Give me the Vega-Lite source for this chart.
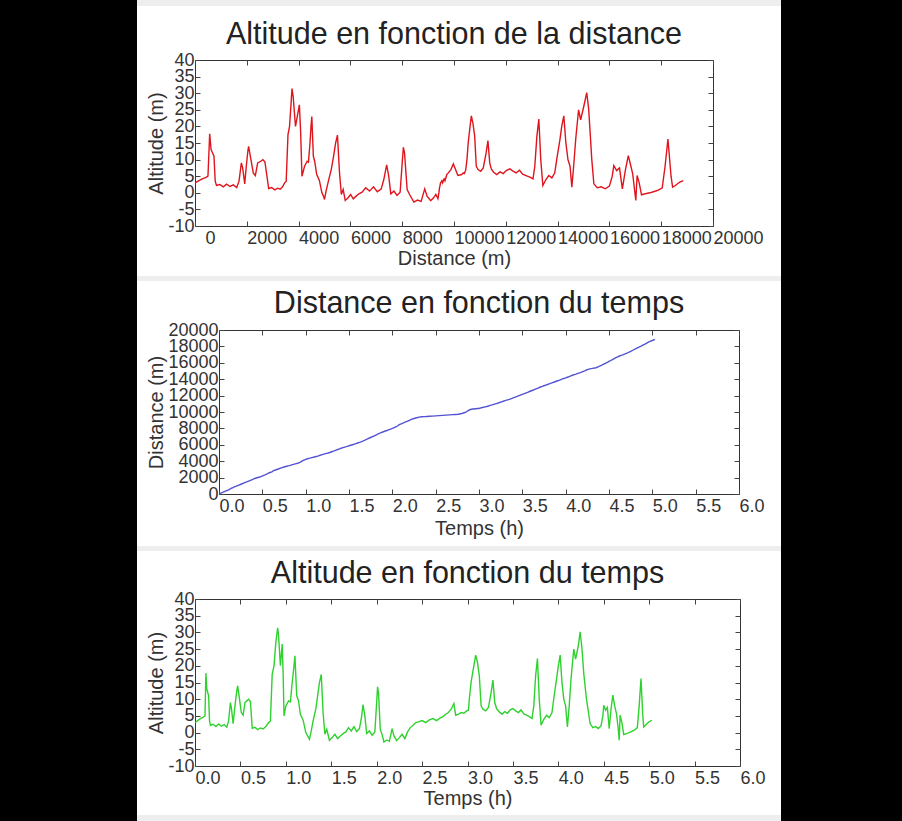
{
"$schema": "https://vega.github.io/schema/vega-lite/v6.json",
"background": "white",
"padding": 0,
"spacing": 0,
"config": {
  "font": "Liberation Sans",
  "view": {"stroke": "#333333", "strokeWidth": 1, "fill": "white"},
  "axis": {"grid": false, "domain": false, "labelFont": "Liberation Sans", "titleFont": "Liberation Sans"},
  "title": {"font": "Liberation Sans"}
},
"data": {"values": [
{"t":0.00,"d":0,"a":3.0},{"t":0.03,"d":140,"a":3.6},{"t":0.06,"d":280,"a":4.2},{"t":0.09,"d":410,"a":4.6},{"t":0.11,"d":500,"a":5.0},{"t":0.12,"d":567,"a":17.8},{"t":0.13,"d":620,"a":13},{"t":0.14,"d":680,"a":12},{"t":0.15,"d":733,"a":11},{"t":0.16,"d":780,"a":3.5},{"t":0.17,"d":830,"a":2.2},{"t":0.20,"d":960,"a":2.5},{"t":0.23,"d":1090,"a":1.8},{"t":0.26,"d":1220,"a":2.6},{"t":0.29,"d":1350,"a":1.9},{"t":0.32,"d":1480,"a":2.4},{"t":0.35,"d":1610,"a":1.6},{"t":0.37,"d":1700,"a":3.5},{"t":0.39,"d":1790,"a":9.0},{"t":0.40,"d":1840,"a":7.5},{"t":0.42,"d":1920,"a":2.7},{"t":0.44,"d":1980,"a":8},{"t":0.46,"d":2040,"a":12.5},{"t":0.47,"d":2070,"a":14},{"t":0.49,"d":2160,"a":10},{"t":0.51,"d":2250,"a":6},{"t":0.53,"d":2330,"a":5.2},{"t":0.55,"d":2420,"a":9},{"t":0.57,"d":2540,"a":9.5},{"t":0.59,"d":2620,"a":10},{"t":0.61,"d":2700,"a":9.3},{"t":0.63,"d":2845,"a":1.3},{"t":0.66,"d":2960,"a":1.6},{"t":0.69,"d":3080,"a":0.9},{"t":0.72,"d":3190,"a":1.4},{"t":0.75,"d":3290,"a":1.1},{"t":0.78,"d":3380,"a":1.8},{"t":0.81,"d":3460,"a":3.0},{"t":0.83,"d":3520,"a":3.4},{"t":0.85,"d":3590,"a":17.5},{"t":0.87,"d":3650,"a":20},{"t":0.89,"d":3710,"a":27},{"t":0.91,"d":3745,"a":31.4},{"t":0.92,"d":3790,"a":29},{"t":0.94,"d":3880,"a":20},{"t":0.96,"d":4030,"a":26.5},{"t":0.97,"d":4080,"a":18},{"t":0.98,"d":4130,"a":5},{"t":1.00,"d":4230,"a":8},{"t":1.03,"d":4330,"a":9.5},{"t":1.05,"d":4380,"a":9.2},{"t":1.07,"d":4440,"a":15},{"t":1.09,"d":4480,"a":20},{"t":1.10,"d":4510,"a":23},{"t":1.12,"d":4570,"a":11},{"t":1.14,"d":4620,"a":9.5},{"t":1.16,"d":4700,"a":5.5},{"t":1.19,"d":4800,"a":3.8},{"t":1.22,"d":4900,"a":0},{"t":1.24,"d":4960,"a":-1.0},{"t":1.26,"d":5000,"a":-2.0},{"t":1.28,"d":5060,"a":0.5},{"t":1.30,"d":5150,"a":3.5},{"t":1.33,"d":5260,"a":7},{"t":1.35,"d":5350,"a":11},{"t":1.37,"d":5430,"a":15},{"t":1.39,"d":5500,"a":17.4},{"t":1.41,"d":5580,"a":6},{"t":1.43,"d":5650,"a":-0.5},{"t":1.45,"d":5720,"a":1},{"t":1.48,"d":5800,"a":-2.3},{"t":1.51,"d":5910,"a":-1.5},{"t":1.54,"d":6010,"a":-0.5},{"t":1.57,"d":6110,"a":-1.8},{"t":1.60,"d":6220,"a":-1.0},{"t":1.63,"d":6330,"a":-0.3},{"t":1.66,"d":6450,"a":0.2},{"t":1.69,"d":6590,"a":1.5},{"t":1.72,"d":6740,"a":0.5},{"t":1.75,"d":6890,"a":1.8},{"t":1.78,"d":7040,"a":0.3},{"t":1.81,"d":7190,"a":1.2},{"t":1.83,"d":7290,"a":4},{"t":1.85,"d":7400,"a":8.4},{"t":1.87,"d":7480,"a":5},{"t":1.89,"d":7560,"a":-0.3},{"t":1.92,"d":7680,"a":0.5},{"t":1.95,"d":7800,"a":-0.8},{"t":1.98,"d":7920,"a":0.2},{"t":2.00,"d":8000,"a":9},{"t":2.01,"d":8045,"a":13.7},{"t":2.02,"d":8090,"a":12},{"t":2.04,"d":8190,"a":1},{"t":2.06,"d":8290,"a":-0.6},{"t":2.08,"d":8450,"a":-2.8},{"t":2.11,"d":8590,"a":-2.2},{"t":2.14,"d":8730,"a":-2.6},{"t":2.17,"d":8870,"a":1.2},{"t":2.19,"d":8960,"a":-1},{"t":2.22,"d":9100,"a":-2.4},{"t":2.25,"d":9210,"a":-1.5},{"t":2.28,"d":9300,"a":-0.5},{"t":2.31,"d":9380,"a":-1.8},{"t":2.34,"d":9420,"a":0.2},{"t":2.37,"d":9440,"a":1.5},{"t":2.40,"d":9460,"a":2.2},{"t":2.43,"d":9480,"a":3.0},{"t":2.46,"d":9500,"a":3.2},{"t":2.50,"d":9530,"a":3.6},{"t":2.54,"d":9560,"a":3.0},{"t":2.58,"d":9590,"a":3.8},{"t":2.62,"d":9620,"a":4.2},{"t":2.66,"d":9650,"a":3.6},{"t":2.70,"d":9680,"a":4.4},{"t":2.73,"d":9700,"a":4.8},{"t":2.76,"d":9720,"a":5.5},{"t":2.79,"d":9780,"a":6},{"t":2.82,"d":9880,"a":7},{"t":2.85,"d":9975,"a":8.7},{"t":2.87,"d":10150,"a":5.2},{"t":2.90,"d":10300,"a":5.5},{"t":2.93,"d":10360,"a":6},{"t":2.96,"d":10400,"a":5.8},{"t":2.99,"d":10430,"a":6.5},{"t":3.01,"d":10450,"a":6.7},{"t":3.02,"d":10500,"a":10},{"t":3.04,"d":10550,"a":15.2},{"t":3.07,"d":10620,"a":20},{"t":3.09,"d":10670,"a":23.2},{"t":3.11,"d":10730,"a":21},{"t":3.13,"d":10800,"a":17},{"t":3.15,"d":10860,"a":8},{"t":3.17,"d":10930,"a":7},{"t":3.20,"d":11030,"a":6.5},{"t":3.23,"d":11130,"a":7.5},{"t":3.26,"d":11240,"a":12},{"t":3.28,"d":11310,"a":15.7},{"t":3.30,"d":11380,"a":9},{"t":3.32,"d":11440,"a":7.2},{"t":3.35,"d":11530,"a":6.2},{"t":3.38,"d":11650,"a":5.5},{"t":3.41,"d":11780,"a":6.3},{"t":3.44,"d":11900,"a":5.8},{"t":3.47,"d":12030,"a":6.8},{"t":3.50,"d":12160,"a":7.2},{"t":3.53,"d":12280,"a":6.5},{"t":3.56,"d":12400,"a":6.0},{"t":3.59,"d":12530,"a":6.8},{"t":3.62,"d":12650,"a":5.6},{"t":3.65,"d":12780,"a":5.2},{"t":3.68,"d":12910,"a":4.8},{"t":3.71,"d":13050,"a":4.2},{"t":3.73,"d":13120,"a":8},{"t":3.75,"d":13200,"a":17},{"t":3.77,"d":13275,"a":22.2},{"t":3.79,"d":13350,"a":10},{"t":3.81,"d":13430,"a":2.2},{"t":3.84,"d":13550,"a":4},{"t":3.87,"d":13660,"a":5.2},{"t":3.90,"d":13780,"a":4.5},{"t":3.93,"d":13890,"a":6},{"t":3.95,"d":13970,"a":10.2},{"t":3.98,"d":14090,"a":16},{"t":4.00,"d":14160,"a":20},{"t":4.02,"d":14240,"a":23.2},{"t":4.04,"d":14320,"a":15},{"t":4.06,"d":14400,"a":10},{"t":4.08,"d":14480,"a":8},{"t":4.10,"d":14550,"a":1.7},{"t":4.12,"d":14620,"a":8},{"t":4.14,"d":14700,"a":16.2},{"t":4.17,"d":14810,"a":25},{"t":4.19,"d":14890,"a":22},{"t":4.22,"d":15010,"a":26},{"t":4.24,"d":15125,"a":30.2},{"t":4.26,"d":15200,"a":25.2},{"t":4.28,"d":15260,"a":17.7},{"t":4.31,"d":15320,"a":10},{"t":4.35,"d":15400,"a":2.7},{"t":4.38,"d":15530,"a":1.5},{"t":4.41,"d":15680,"a":1.8},{"t":4.44,"d":15840,"a":1.2},{"t":4.47,"d":16000,"a":2.0},{"t":4.49,"d":16110,"a":5},{"t":4.50,"d":16170,"a":8.2},{"t":4.52,"d":16280,"a":6.7},{"t":4.54,"d":16390,"a":7.5},{"t":4.56,"d":16500,"a":1.2},{"t":4.58,"d":16620,"a":7},{"t":4.60,"d":16730,"a":11.2},{"t":4.62,"d":16830,"a":8},{"t":4.64,"d":16900,"a":5.7},{"t":4.66,"d":16970,"a":1},{"t":4.67,"d":17020,"a":-2.3},{"t":4.68,"d":17070,"a":5.2},{"t":4.70,"d":17150,"a":3},{"t":4.72,"d":17240,"a":-0.6},{"t":4.75,"d":17390,"a":-0.3},{"t":4.78,"d":17560,"a":0.0},{"t":4.81,"d":17730,"a":0.4},{"t":4.84,"d":17890,"a":0.8},{"t":4.87,"d":18040,"a":1.5},{"t":4.89,"d":18150,"a":8},{"t":4.91,"d":18260,"a":16.2},{"t":4.93,"d":18380,"a":5},{"t":4.94,"d":18440,"a":1.7},{"t":4.96,"d":18550,"a":2.2},{"t":4.98,"d":18640,"a":2.8},{"t":5.00,"d":18720,"a":3.2},{"t":5.03,"d":18850,"a":3.7}
]},
"hconcat": [
  {"width": 137, "height": 821, "view": {"fill": "#000000", "stroke": null},
   "transform": [{"filter": "datum.t == 0"}],
   "mark": {"type": "point", "opacity": 0}, "encoding": {}},
  {"concat": [
    {"width": 644, "height": 6, "view": {"fill": "#eeeeee", "stroke": null},
     "transform": [{"filter": "datum.t == 0"}],
     "mark": {"type": "point", "opacity": 0}, "encoding": {}},
    {"width": 644, "height": 1, "view": {"fill": null, "stroke": null},
     "transform": [{"filter": "datum.t == 0"}],
     "mark": {"type": "point", "opacity": 0, "size": 0}, "encoding": {}},
    {"hconcat": [
      {"width": 9, "height": 1, "view": {"fill": null, "stroke": null},
       "transform": [{"filter": "datum.t == 0"}],
       "mark": {"type": "point", "opacity": 0}, "encoding": {}},
      {"width": 518, "height": 166,
       "title": {"text": "Altitude en fonction de la distance", "fontSize": 30.5, "fontWeight": "normal", "color": "#222222", "anchor": "middle", "frame": "group", "offset": 0.5},
       "layer": [
        {"mark": {"type": "line", "color": "#e0141c", "strokeWidth": 1.4, "clip": true},
         "encoding": {
          "x": {"field": "d", "type": "quantitative", "scale": {"domain": [0, 20000], "nice": false, "zero": false},
            "axis": {"orient": "bottom", "values": [0,2000,4000,6000,8000,10000,12000,14000,16000,18000,20000], "format": "d", "labelAlign": "left", "labelBaseline": "top", "labelPadding": 8, "labelOffset": {"condition": {"test": "datum.value == 0", "value": 10}, "value": 0}, "labelFlush": false, "labelOverlap": false, "labelBound": false, "labelFontSize": 18, "labelColor": "#333333", "tickSize": -5, "tickColor": "#444444", "title": "Distance (m)", "titleFontSize": 20, "titleFontWeight": "normal", "titleColor": "#333333", "titlePadding": 1}},
          "y": {"field": "a", "type": "quantitative", "scale": {"domain": [-10, 40], "nice": false, "zero": false},
            "axis": {"orient": "left", "values": [-10,-5,0,5,10,15,20,25,30,35,40], "labelExpr": "'' + datum.value", "labelPadding": 6, "labelFlush": false, "labelOverlap": false, "labelBound": false, "labelFontSize": 18, "labelColor": "#333333", "tickSize": -5, "tickColor": "#444444", "title": "Altitude (m)", "titleFontSize": 20, "titleFontWeight": "normal", "titleColor": "#333333", "titlePadding": 1}}
         }},
        {"mark": {"type": "line", "strokeOpacity": 0},
         "encoding": {
          "x": {"field": "d", "type": "quantitative", "scale": {"domain": [0, 20000], "nice": false, "zero": false},
            "axis": {"orient": "top", "values": [0,2000,4000,6000,8000,10000,12000,14000,16000,18000,20000], "labels": false, "tickSize": -5, "tickColor": "#444444", "title": null, "minExtent": 0, "maxExtent": 0}},
          "y": {"field": "a", "type": "quantitative", "scale": {"domain": [-10, 40], "nice": false, "zero": false},
            "axis": {"orient": "right", "values": [-10,-5,0,5,10,15,20,25,30,35,40], "labels": false, "tickSize": -5, "tickColor": "#444444", "title": null, "minExtent": 0, "maxExtent": 0}}
         }}
       ],
       "resolve": {"axis": {"x": "independent", "y": "independent"}}}
     ], "spacing": 0},
    {"width": 644, "height": 5, "view": {"fill": "#eeeeee", "stroke": null},
     "transform": [{"filter": "datum.t == 0"}],
     "mark": {"type": "point", "opacity": 0}, "encoding": {}},
    {"hconcat": [
      {"width": 9, "height": 1, "view": {"fill": null, "stroke": null},
       "transform": [{"filter": "datum.t == 0"}],
       "mark": {"type": "point", "opacity": 0}, "encoding": {}},
      {"width": 520, "height": 164,
       "title": {"text": "Distance en fonction du temps", "fontSize": 30.5, "fontWeight": "normal", "color": "#222222", "anchor": "middle", "frame": "group", "offset": 1.5},
       "layer": [
        {"mark": {"type": "line", "color": "#5252d4", "strokeWidth": 1.4, "clip": true},
         "encoding": {
          "x": {"field": "t", "type": "quantitative", "scale": {"domain": [0, 6], "nice": false, "zero": false},
            "axis": {"orient": "bottom", "values": [0,0.5,1,1.5,2,2.5,3,3.5,4,4.5,5,5.5,6], "format": ".1f", "labelAlign": "left", "labelBaseline": "top", "labelPadding": 8, "labelFlush": false, "labelOverlap": false, "labelBound": false, "labelFontSize": 18, "labelColor": "#333333", "tickSize": -5, "tickColor": "#444444", "title": "Temps (h)", "titleFontSize": 20, "titleFontWeight": "normal", "titleColor": "#333333", "titlePadding": 3.5}},
          "y": {"field": "d", "type": "quantitative", "scale": {"domain": [0, 20000], "nice": false, "zero": false},
            "axis": {"orient": "left", "values": [0,2000,4000,6000,8000,10000,12000,14000,16000,18000,20000], "labelExpr": "'' + datum.value", "labelPadding": 6, "labelFlush": false, "labelOverlap": false, "labelBound": false, "labelFontSize": 18, "labelColor": "#333333", "tickSize": -5, "tickColor": "#444444", "title": "Distance (m)", "titleFontSize": 20, "titleFontWeight": "normal", "titleColor": "#333333", "titlePadding": 1}}
         }},
        {"mark": {"type": "line", "strokeOpacity": 0},
         "encoding": {
          "x": {"field": "t", "type": "quantitative", "scale": {"domain": [0, 6], "nice": false, "zero": false},
            "axis": {"orient": "top", "values": [0,0.5,1,1.5,2,2.5,3,3.5,4,4.5,5,5.5,6], "labels": false, "tickSize": -5, "tickColor": "#444444", "title": null, "minExtent": 0, "maxExtent": 0}},
          "y": {"field": "d", "type": "quantitative", "scale": {"domain": [0, 20000], "nice": false, "zero": false},
            "axis": {"orient": "right", "values": [0,2000,4000,6000,8000,10000,12000,14000,16000,18000,20000], "labels": false, "tickSize": -5, "tickColor": "#444444", "title": null, "minExtent": 0, "maxExtent": 0}}
         }}
       ],
       "resolve": {"axis": {"x": "independent", "y": "independent"}}}
     ], "spacing": 0},
    {"width": 644, "height": 5, "view": {"fill": "#eeeeee", "stroke": null},
     "transform": [{"filter": "datum.t == 0"}],
     "mark": {"type": "point", "opacity": 0}, "encoding": {}},
    {"hconcat": [
      {"width": 9, "height": 1, "view": {"fill": null, "stroke": null},
       "transform": [{"filter": "datum.t == 0"}],
       "mark": {"type": "point", "opacity": 0}, "encoding": {}},
      {"width": 545, "height": 167,
       "title": {"text": "Altitude en fonction du temps", "fontSize": 30.5, "fontWeight": "normal", "color": "#222222", "anchor": "middle", "frame": "group", "offset": 1},
       "layer": [
        {"mark": {"type": "line", "color": "#2fd12f", "strokeWidth": 1.4, "clip": true},
         "encoding": {
          "x": {"field": "t", "type": "quantitative", "scale": {"domain": [0, 6], "nice": false, "zero": false},
            "axis": {"orient": "bottom", "values": [0,0.5,1,1.5,2,2.5,3,3.5,4,4.5,5,5.5,6], "format": ".1f", "labelAlign": "left", "labelBaseline": "top", "labelPadding": 8, "labelFlush": false, "labelOverlap": false, "labelBound": false, "labelFontSize": 18, "labelColor": "#333333", "tickSize": -5, "tickColor": "#444444", "title": "Temps (h)", "titleFontSize": 20, "titleFontWeight": "normal", "titleColor": "#333333", "titlePadding": 1.5}},
          "y": {"field": "a", "type": "quantitative", "scale": {"domain": [-10, 40], "nice": false, "zero": false},
            "axis": {"orient": "left", "values": [-10,-5,0,5,10,15,20,25,30,35,40], "labelExpr": "'' + datum.value", "labelPadding": 6, "labelFlush": false, "labelOverlap": false, "labelBound": false, "labelFontSize": 18, "labelColor": "#333333", "tickSize": -5, "tickColor": "#444444", "title": "Altitude (m)", "titleFontSize": 20, "titleFontWeight": "normal", "titleColor": "#333333", "titlePadding": 1}}
         }},
        {"mark": {"type": "line", "strokeOpacity": 0},
         "encoding": {
          "x": {"field": "t", "type": "quantitative", "scale": {"domain": [0, 6], "nice": false, "zero": false},
            "axis": {"orient": "top", "values": [0,0.5,1,1.5,2,2.5,3,3.5,4,4.5,5,5.5,6], "labels": false, "tickSize": -5, "tickColor": "#444444", "title": null, "minExtent": 0, "maxExtent": 0}},
          "y": {"field": "a", "type": "quantitative", "scale": {"domain": [-10, 40], "nice": false, "zero": false},
            "axis": {"orient": "right", "values": [-10,-5,0,5,10,15,20,25,30,35,40], "labels": false, "tickSize": -5, "tickColor": "#444444", "title": null, "minExtent": 0, "maxExtent": 0}}
         }}
       ],
       "resolve": {"axis": {"x": "independent", "y": "independent"}}}
     ], "spacing": 0},
    {"width": 644, "height": 7, "view": {"fill": "#eeeeee", "stroke": null},
     "transform": [{"filter": "datum.t == 0"}],
     "mark": {"type": "point", "opacity": 0}, "encoding": {}}
   ],
   "columns": 1,
   "spacing": {"row": 6, "column": 0}},
  {"width": 121, "height": 821, "view": {"fill": "#000000", "stroke": null},
   "transform": [{"filter": "datum.t == 0"}],
   "mark": {"type": "point", "opacity": 0}, "encoding": {}}
]
}
